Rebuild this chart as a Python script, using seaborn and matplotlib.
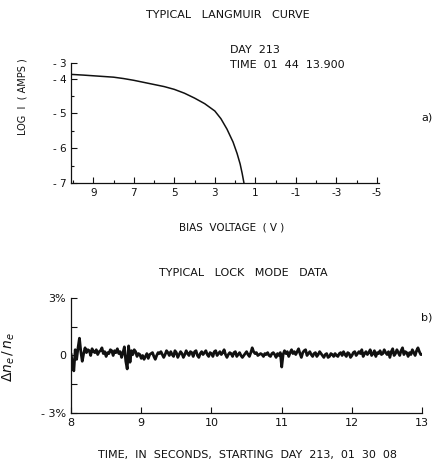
import numpy as np
import matplotlib
matplotlib.use("Agg")
import matplotlib.pyplot as plt
from matplotlib.ticker import MultipleLocator, FixedLocator
import seaborn as sns

# --- panel a: Langmuir curve (bias voltage, log current) ---
bias_v = [10.1, 9.5, 9.0, 8.5, 8.0, 7.5, 7.0, 6.5, 6.0, 5.5, 5.0, 4.5, 4.0,
          3.5, 3.0, 2.7, 2.4, 2.1, 1.9, 1.75, 1.65, 1.56]
log_i = [-3.88, -3.9, -3.92, -3.94, -3.96, -4.0, -4.05, -4.11, -4.17, -4.23, -4.31,
         -4.42, -4.56, -4.72, -4.93, -5.15, -5.45, -5.82, -6.15, -6.45, -6.72, -7.0]
bias_ticks = [9, 7, 5, 3, 1, -1, -3, -5]
logi_ticks = [-3.55, -4, -5, -6, -7]
logi_labels = ["- 3", "- 4", "- 5", "- 6", "- 7"]

# --- panel b: lock mode data (seconds, percent) ---
t_start, t_step = 8.0, 0.02
dn_pct = [
    0.1, -0.4, -0.8, 0.3, -0.2, 0.4, 0.9, 0.2, -0.3, 0.1,
    0.4, 0.15, 0.3, 0.25, 0.0, 0.35, 0.2, 0.15, 0.3, 0.05,
    0.2, 0.25, 0.4, 0.1, 0.2, -0.05, 0.15, 0.1, 0.3, 0.25,
    0.0, 0.25, 0.15, 0.35, 0.1, 0.2, -0.1, 0.15, 0.45, -0.3,
    -0.7, 0.5, -0.35, 0.25, 0.05, 0.3, 0.2, -0.05, 0.1, 0.05,
    -0.15, 0.0, -0.2, -0.05, 0.1, -0.15, 0.05, 0.1, 0.15, -0.05,
    -0.2, 0.0, 0.15, 0.1, 0.2, 0.05, -0.1, 0.05, 0.25, 0.15,
    0.0, 0.2, 0.05, -0.05, 0.25, 0.15, -0.1, 0.05, 0.2, 0.1,
    -0.1, 0.05, 0.25, 0.1, 0.0, 0.2, 0.15, -0.05, 0.2, 0.25,
    0.0, -0.1, 0.1, 0.2, 0.05, 0.15, 0.25, 0.05, -0.05, 0.15,
    0.1, -0.05, 0.2, 0.25, 0.0, 0.1, 0.2, 0.05, 0.15, 0.3,
    0.05, -0.1, 0.05, 0.15, 0.1, -0.05, 0.15, 0.2, -0.05, 0.05,
    0.15, 0.0, -0.1, 0.0, 0.1, 0.2, 0.05, -0.05, 0.15, 0.4,
    0.2, 0.1, 0.15, 0.0, 0.05, 0.1, 0.05, -0.05, 0.1, 0.05,
    0.15, 0.0, -0.05, 0.1, 0.15, 0.05, -0.1, 0.1, 0.0, 0.15,
    -0.6, 0.05, 0.25, 0.1, 0.2, -0.05, 0.15, 0.3, 0.1, 0.2,
    0.05, 0.2, 0.35, 0.1, -0.1, 0.15, 0.25, 0.3, 0.0, 0.1,
    0.2, 0.05, -0.05, 0.1, 0.15, -0.05, 0.05, 0.2, 0.1, 0.0,
    -0.1, 0.05, 0.1, -0.1, -0.05, 0.1, 0.05, -0.05, 0.1, 0.0,
    -0.05, 0.1, 0.15, 0.0, 0.2, 0.05, -0.05, 0.15, 0.1, -0.1,
    0.0, 0.15, 0.2, 0.0, 0.1, 0.2, 0.1, 0.3, -0.05, 0.1,
    0.2, 0.05, 0.15, 0.3, 0.0, 0.1, 0.25, -0.05, 0.15, 0.1,
    0.25, 0.05, 0.1, 0.3, 0.15, 0.05, 0.2, -0.1, 0.2, 0.35,
    0.0, 0.1, 0.3, 0.15, 0.0, 0.25, 0.4, 0.05, 0.2, 0.15,
    -0.05, 0.15, 0.05, 0.3, 0.15, 0.0, 0.25, 0.4, 0.2, 0.05,
    0.05,
]
time_s = t_start + t_step * np.arange(len(dn_pct))
time_ticks = [8, 9, 10, 11, 12, 13]
dn_ticks = [-3, -1.5, 0, 1.5, 3]
dn_labels = ["- 3%", "", "0", "", "3%"]

sns.set_style("ticks")
plt.rcParams["font.family"] = ["DejaVu Sans"]
plt.rcParams["font.size"] = 7

fig = plt.figure(figsize=(4.33, 4.59), dpi=100)
ink = "#111111"

# top panel
ax1 = fig.add_axes([0.164, 0.601, 0.711, 0.262])
sns.lineplot(x=bias_v, y=log_i, ax=ax1, color=ink, linewidth=1.1, sort=False)
ax1.set_xlim(10.1, -5.1)
ax1.set_ylim(-7, -3.55)
ax1.xaxis.set_major_locator(FixedLocator(bias_ticks))
ax1.xaxis.set_minor_locator(MultipleLocator(1))
ax1.set_xticklabels([str(v) for v in bias_ticks])
ax1.yaxis.set_major_locator(FixedLocator(logi_ticks))
ax1.yaxis.set_minor_locator(FixedLocator([-4.5, -5.5, -6.5]))
ax1.set_yticklabels(logi_labels)
ax1.tick_params(which="both", direction="in", color=ink, labelcolor=ink, labelsize=7.5)
ax1.tick_params(which="major", length=4, width=0.8)
ax1.tick_params(which="minor", length=2.5, width=0.8)
sns.despine(ax=ax1)
for s in ["left", "bottom"]:
    ax1.spines[s].set_color(ink)
    ax1.spines[s].set_linewidth(0.9)
ax1.set_xlabel("BIAS  VOLTAGE  ( V )", color=ink, fontsize=7.5)
ax1.xaxis.set_label_coords(0.523, -0.325)
ax1.set_ylabel("LOG  I  ( AMPS )", color=ink, fontsize=7)
ax1.yaxis.set_label_coords(-0.14, 0.72)

fig.text(0.527, 0.967, "TYPICAL   LANGMUIR   CURVE", ha="center", va="center", fontsize=8, color=ink)
fig.text(0.531, 0.891, "DAY  213", ha="left", va="center", fontsize=8, color=ink)
fig.text(0.531, 0.858, "TIME  01  44  13.900", ha="left", va="center", fontsize=8, color=ink)
fig.text(0.972, 0.743, "a)", ha="left", va="center", fontsize=8, color=ink)

# bottom panel
ax2 = fig.add_axes([0.164, 0.100, 0.811, 0.251])
sns.lineplot(x=time_s, y=dn_pct, ax=ax2, color=ink, linewidth=2.0)
ax2.set_xlim(8, 13)
ax2.set_ylim(-3, 3)
ax2.xaxis.set_major_locator(FixedLocator(time_ticks))
ax2.set_xticklabels([str(v) for v in time_ticks])
ax2.yaxis.set_major_locator(FixedLocator(dn_ticks))
ax2.set_yticklabels(dn_labels)
ax2.tick_params(which="both", direction="in", color=ink, labelcolor=ink, labelsize=8,
                length=4, width=0.8)
sns.despine(ax=ax2)
for s in ["left", "bottom"]:
    ax2.spines[s].set_color(ink)
    ax2.spines[s].set_linewidth(0.9)
ax2.set_xlabel("TIME,  IN  SECONDS,  STARTING  DAY  213,  01  30  08", color=ink, fontsize=8)
ax2.xaxis.set_label_coords(0.504, -0.32)
ax2.set_ylabel(r"$\Delta n_e\,/\,n_e$", color=ink, fontsize=10)
ax2.yaxis.set_label_coords(-0.154, 0.487)

fig.text(0.563, 0.405, "TYPICAL   LOCK   MODE   DATA", ha="center", va="center", fontsize=8, color=ink)
fig.text(0.972, 0.309, "b)", ha="left", va="center", fontsize=8, color=ink)

fig.savefig("out.png", dpi=100)
